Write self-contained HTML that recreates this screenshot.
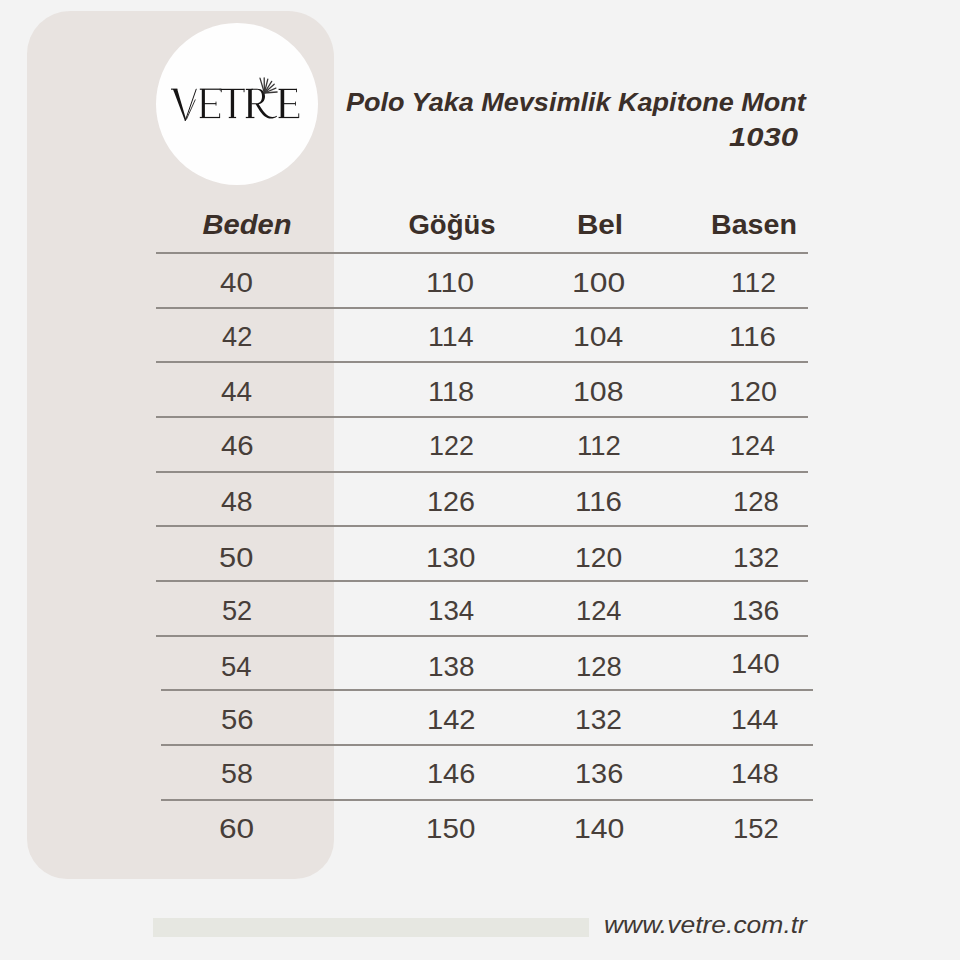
<!DOCTYPE html>
<html><head><meta charset="utf-8"><style>
html,body{margin:0;padding:0;}
body{width:960px;height:960px;background:#f3f3f3;position:relative;overflow:hidden;font-family:"Liberation Sans",sans-serif;}
.panel{position:absolute;left:27px;top:11px;width:306.8px;height:868px;border-radius:43px 46px 39px 40px;background:#e8e3e0;}
.circle{position:absolute;left:155.8px;top:22.5px;width:162px;height:162px;border-radius:50%;background:#fefefe;}
.c{position:absolute;color:#473e39;white-space:nowrap;transform-origin:0 0;}
.h{position:absolute;text-align:center;color:#3b2f29;font-weight:700;font-size:27px;line-height:27px;white-space:nowrap;}
.ln{position:absolute;height:2px;background:#918c88;}
.title{position:absolute;color:#3b2f29;font-weight:700;font-style:italic;white-space:nowrap;}
.bar{position:absolute;left:152.5px;top:918.3px;width:436.5px;height:18.7px;background:#e6e7e1;}
.url{position:absolute;color:#3f3834;font-style:italic;white-space:nowrap;}
.logo{position:absolute;font-family:"Liberation Serif",serif;color:#141212;white-space:nowrap;}
</style></head><body>
<div class="panel"></div>
<div class="circle"></div>
<svg style="position:absolute;left:160px;top:70px" width="150" height="60" viewBox="160 70 150 60">
<g fill="#161414" stroke="none">
<rect x="171" y="88.6" width="6.4" height="1.1"/>
<polygon points="172.9,89 177.2,89 186.1,119.6 185.0,120.9"/>
<rect x="201.8" y="89" width="3.1" height="28.9"/>
<rect x="199.8" y="88.6" width="20.8" height="1.2"/>
<rect x="219.8" y="88.6" width="0.8" height="2.2"/>
<rect x="204" y="103.1" width="12.2" height="1.1"/>
<rect x="215.6" y="101.6" width="0.8" height="4"/>
<rect x="199.8" y="116.9" width="20.2" height="1.2"/>
<rect x="219.2" y="113.4" width="0.9" height="4.6"/>
<rect x="220.8" y="88.8" width="23.7" height="1.2"/>
<rect x="220.8" y="88.8" width="0.9" height="3.4"/>
<rect x="243.6" y="88.8" width="0.9" height="3.4"/>
<rect x="230.8" y="89" width="3.3" height="28.9"/>
<rect x="228.8" y="116.9" width="7.3" height="1.2"/>
<rect x="248.2" y="89" width="3.6" height="28.9"/>
<rect x="245.8" y="88.8" width="7" height="1.2"/>
<rect x="245.8" y="116.9" width="8.6" height="1.2"/>
<path d="M251.5,88.8 L257,88.8 C262.4,88.8 265,92 265,96.4 C265,100.8 262,104.2 257,104.2 L251.5,104.2 L251.5,103.2 L256.4,103.2 C260,103.2 262,100.6 262,96.4 C262,92.2 260.2,89.8 256.8,89.8 L251.5,89.8 Z"/>
<path d="M255.6,104 L258.6,104 C261.5,108.6 264.6,114 269,116.2 C271.6,117.4 274.2,117.2 276.8,115.8 L277,116.4 C274.2,118.6 270.6,119 267.6,117.9 C262.6,116 259.6,110.8 255.6,104 Z"/>
<rect x="280.6" y="89" width="3.6" height="28.9"/>
<rect x="278.6" y="88.8" width="18.2" height="1.2"/>
<rect x="296.0" y="88.8" width="0.9" height="3.4"/>
<rect x="284" y="103.1" width="11.6" height="1.1"/>
<rect x="295" y="101.6" width="0.8" height="4"/>
<rect x="278.6" y="116.9" width="20.2" height="1.2"/>
<rect x="298.3" y="113.4" width="0.9" height="4.6"/>
</g>
<g stroke="#161414" fill="none" stroke-linecap="round">
<line x1="185.3" y1="120.6" x2="196.2" y2="89.2" stroke-width="1.0"/>
<line x1="186.5" y1="119.2" x2="195.2" y2="99.8" stroke-width="0.85"/>
</g>
<g stroke="#3a3838" stroke-width="1.3" fill="none" stroke-linecap="round">
<line x1="264.4" y1="93" x2="260.0" y2="78.1"/>
<line x1="264.4" y1="93" x2="264.2" y2="77.8"/>
<line x1="264.4" y1="93" x2="267.8" y2="79.1"/>
<line x1="264.4" y1="93" x2="271.7" y2="81.4"/>
<line x1="264.4" y1="93" x2="274.2" y2="84.3"/>
<line x1="264.4" y1="93" x2="275.9" y2="88.1"/>
<line x1="264.4" y1="93" x2="277.1" y2="92.0"/>
</g>
</svg>

<div class="title" style="left:345.7px;top:89.1px;font-size:26px;line-height:26px;transform:scaleX(1.04);transform-origin:0 0">Polo Yaka Mevsimlik Kapitone Mont</div>
<div class="title" style="left:497.5px;width:300px;text-align:right;top:123.5px;font-size:26.5px;line-height:26.5px;transform:scaleX(1.17);transform-origin:100% 0">1030</div>
<div class="h" style="left:97.4px;top:212.0px;width:300px;font-style:italic;transform:scaleX(1.08)">Beden</div>
<div class="h" style="left:301.8px;top:212.0px;width:300px;font-style:normal;transform:scaleX(1.02)">Göğüs</div>
<div class="h" style="left:450.25px;top:212.0px;width:300px;font-style:normal;transform:scaleX(1.1)">Bel</div>
<div class="h" style="left:603.9px;top:212.0px;width:300px;font-style:normal;transform:scaleX(1.06)">Basen</div>
<div class="ln" style="left:155.5px;top:251.9px;width:652.5px"></div><div class="ln" style="left:155.5px;top:306.6px;width:652.5px"></div><div class="ln" style="left:155.5px;top:361.1px;width:652.5px"></div><div class="ln" style="left:155.5px;top:415.9px;width:652.5px"></div><div class="ln" style="left:155.5px;top:470.6px;width:652.5px"></div><div class="ln" style="left:155.5px;top:525.3px;width:652.5px"></div><div class="ln" style="left:155.5px;top:580.1px;width:652.5px"></div><div class="ln" style="left:155.5px;top:634.7px;width:652.5px"></div><div class="ln" style="left:160.5px;top:689.4px;width:652.5px"></div><div class="ln" style="left:160.5px;top:744.1px;width:652.5px"></div><div class="ln" style="left:160.5px;top:798.6px;width:652.5px"></div>
<div class="c" style="left:220.25px;top:269.75px;font-size:27px;line-height:27px;transform:scaleX(1.095)">40</div><div class="c" style="left:426.46px;top:269.75px;font-size:27px;line-height:27px;transform:scaleX(1.117)">110</div><div class="c" style="left:572.04px;top:269.75px;font-size:27px;line-height:27px;transform:scaleX(1.179)">100</div><div class="c" style="left:730.61px;top:269.75px;font-size:27px;line-height:27px;transform:scaleX(1.047)">112</div><div class="c" style="left:222.00px;top:324.45px;font-size:27px;line-height:27px;transform:scaleX(1.009)">42</div><div class="c" style="left:427.88px;top:324.20px;font-size:27px;line-height:27px;transform:scaleX(1.058)">114</div><div class="c" style="left:573.37px;top:324.45px;font-size:27px;line-height:27px;transform:scaleX(1.115)">104</div><div class="c" style="left:729.42px;top:324.45px;font-size:27px;line-height:27px;transform:scaleX(1.092)">116</div><div class="c" style="left:221.38px;top:378.50px;font-size:27px;line-height:27px;transform:scaleX(1.037)">44</div><div class="c" style="left:427.86px;top:378.75px;font-size:27px;line-height:27px;transform:scaleX(1.072)">118</div><div class="c" style="left:573.36px;top:378.75px;font-size:27px;line-height:27px;transform:scaleX(1.121)">108</div><div class="c" style="left:728.67px;top:378.75px;font-size:27px;line-height:27px;transform:scaleX(1.064)">120</div><div class="c" style="left:220.71px;top:432.75px;font-size:27px;line-height:27px;transform:scaleX(1.088)">46</div><div class="c" style="left:429.01px;top:432.75px;font-size:27px;line-height:27px;transform:scaleX(0.996)">122</div><div class="c" style="left:577.46px;top:432.75px;font-size:27px;line-height:27px;transform:scaleX(1.019)">112</div><div class="c" style="left:730.00px;top:432.75px;font-size:27px;line-height:27px;transform:scaleX(1.001)">124</div><div class="c" style="left:221.37px;top:488.75px;font-size:27px;line-height:27px;transform:scaleX(1.055)">48</div><div class="c" style="left:426.57px;top:488.75px;font-size:27px;line-height:27px;transform:scaleX(1.064)">126</div><div class="c" style="left:575.42px;top:488.75px;font-size:27px;line-height:27px;transform:scaleX(1.092)">116</div><div class="c" style="left:732.66px;top:488.75px;font-size:27px;line-height:27px;transform:scaleX(1.019)">128</div><div class="c" style="left:219.37px;top:545.05px;font-size:27px;line-height:27px;transform:scaleX(1.142)">50</div><div class="c" style="left:425.81px;top:545.05px;font-size:27px;line-height:27px;transform:scaleX(1.095)">130</div><div class="c" style="left:574.90px;top:545.05px;font-size:27px;line-height:27px;transform:scaleX(1.048)">120</div><div class="c" style="left:732.65px;top:545.05px;font-size:27px;line-height:27px;transform:scaleX(1.025)">132</div><div class="c" style="left:222.04px;top:597.75px;font-size:27px;line-height:27px;transform:scaleX(1.007)">52</div><div class="c" style="left:427.95px;top:597.75px;font-size:27px;line-height:27px;transform:scaleX(1.027)">134</div><div class="c" style="left:575.98px;top:597.75px;font-size:27px;line-height:27px;transform:scaleX(1.011)">124</div><div class="c" style="left:731.90px;top:597.75px;font-size:27px;line-height:27px;transform:scaleX(1.048)">136</div><div class="c" style="left:221.23px;top:654.00px;font-size:27px;line-height:27px;transform:scaleX(1.018)">54</div><div class="c" style="left:427.93px;top:654.25px;font-size:27px;line-height:27px;transform:scaleX(1.033)">138</div><div class="c" style="left:575.97px;top:654.25px;font-size:27px;line-height:27px;transform:scaleX(1.017)">128</div><div class="c" style="left:730.54px;top:650.75px;font-size:27px;line-height:27px;transform:scaleX(1.079)">140</div><div class="c" style="left:220.55px;top:706.75px;font-size:27px;line-height:27px;transform:scaleX(1.084)">56</div><div class="c" style="left:426.84px;top:706.75px;font-size:27px;line-height:27px;transform:scaleX(1.078)">142</div><div class="c" style="left:575.42px;top:706.75px;font-size:27px;line-height:27px;transform:scaleX(1.042)">132</div><div class="c" style="left:730.89px;top:706.50px;font-size:27px;line-height:27px;transform:scaleX(1.053)">144</div><div class="c" style="left:221.17px;top:761.45px;font-size:27px;line-height:27px;transform:scaleX(1.062)">58</div><div class="c" style="left:426.86px;top:761.45px;font-size:27px;line-height:27px;transform:scaleX(1.071)">146</div><div class="c" style="left:574.86px;top:761.45px;font-size:27px;line-height:27px;transform:scaleX(1.071)">136</div><div class="c" style="left:730.88px;top:761.45px;font-size:27px;line-height:27px;transform:scaleX(1.060)">148</div><div class="c" style="left:219.04px;top:815.75px;font-size:27px;line-height:27px;transform:scaleX(1.171)">60</div><div class="c" style="left:425.81px;top:815.75px;font-size:27px;line-height:27px;transform:scaleX(1.095)">150</div><div class="c" style="left:573.76px;top:815.75px;font-size:27px;line-height:27px;transform:scaleX(1.119)">140</div><div class="c" style="left:732.57px;top:815.75px;font-size:27px;line-height:27px;transform:scaleX(1.016)">152</div>
<div class="bar"></div>
<div class="url" style="left:604.2px;top:913px;font-size:24.5px;line-height:24.5px;transform:scaleX(1.08);transform-origin:0 0">www.vetre.com.tr</div>
</body></html>
